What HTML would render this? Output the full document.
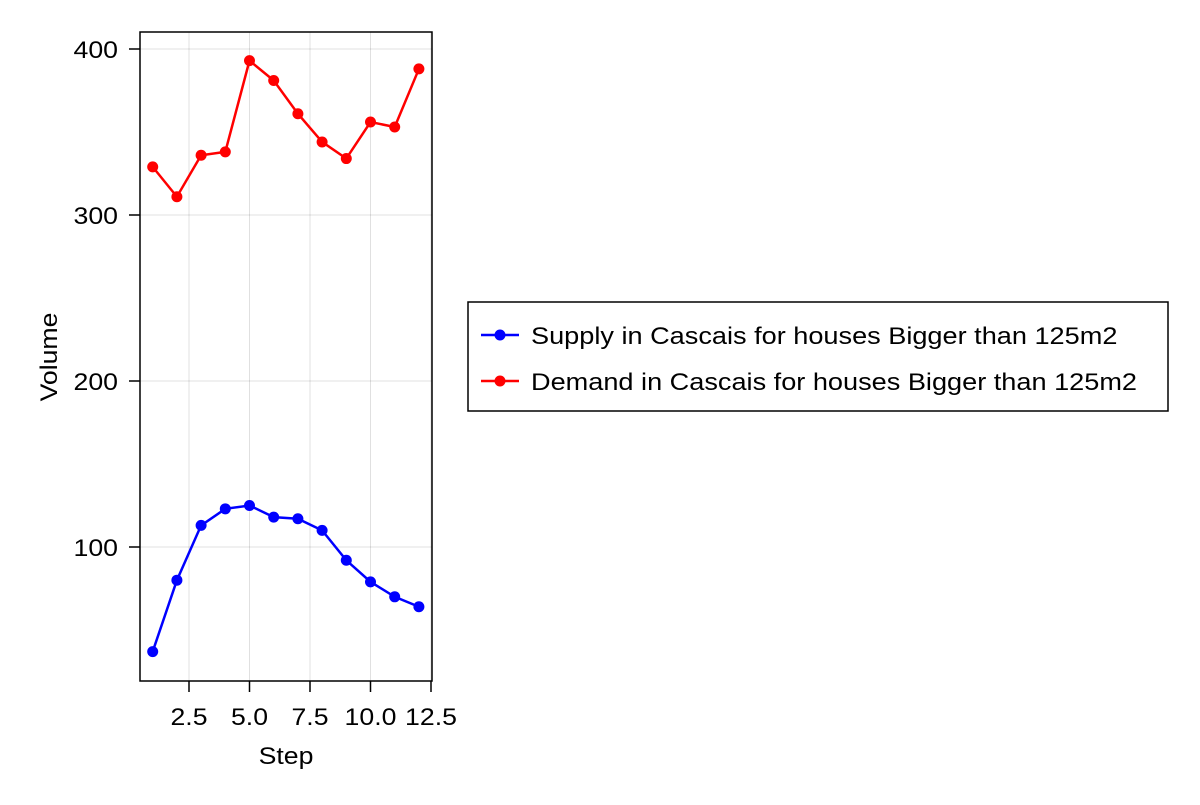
<!DOCTYPE html>
<html><head><meta charset="utf-8"><style>
html,body{margin:0;padding:0;background:#fff;}
svg text{font-family:"Liberation Sans",sans-serif;fill:#000;}
</style></head><body>
<svg id="chart" width="1200" height="800" xmlns="http://www.w3.org/2000/svg">
<rect width="1200" height="800" fill="#fff"/>
<g id="grid"></g>
<g id="series"></g>
<rect x="140" y="32" width="292" height="649" fill="none" stroke="#000" stroke-width="1.5"/>
<g id="ticks"></g>
<text class="w" x="286" y="764" font-size="24" text-anchor="middle">Step</text>
<text class="w" transform="translate(57,357) rotate(-90)" font-size="24" text-anchor="middle">Volume</text>
<g>
<rect x="468" y="302" width="700" height="109" fill="#fff" stroke="#000" stroke-width="1.5"/>
<g>
<line x1="481" y1="335" x2="519" y2="335" stroke="#0000ff" stroke-width="2.5"/>
<circle cx="500" cy="335" r="5.5" fill="#0000ff"/>
<text class="L" x="531" y="344" font-size="24">Supply in Cascais for houses Bigger than 125m2</text></g>
<g>
<line x1="481" y1="381" x2="519" y2="381" stroke="#ff0000" stroke-width="2.5"/>
<circle cx="500" cy="381" r="5.5" fill="#ff0000"/>
<text class="L" x="531" y="390" font-size="24">Demand in Cascais for houses Bigger than 125m2</text></g>
</g>
</svg>
<script>
const steps=[1,2,3,4,5,6,7,8,9,10,11,12];
const supply=[37,80,113,123,125,118,117,110,92,79,70,64];
const demand=[329,311,336,338,393,381,361,344,334,356,353,388];
const xTicks=[2.5,5.0,7.5,10.0,12.5];
const xTickLabels=["2.5","5.0","7.5","10.0","12.5"];
const yTicks=[100,200,300,400];
const yTickLabels=["100","200","300","400"];
const NS="http://www.w3.org/2000/svg";
const xs=v=>152.7+(v-1)*24.2;
const ys=v=>49+(400-v)*1.66;
function mk(t,a,p){const e=document.createElementNS(NS,t);for(const k in a)e.setAttribute(k,a[k]);p.appendChild(e);return e;}
const grid=document.getElementById('grid'),ticks=document.getElementById('ticks'),ser=document.getElementById('series');
xTicks.forEach((v,i)=>{
 const g=mk('line',{x1:xs(v),x2:xs(v),y1:32,y2:681,stroke:'#000','stroke-opacity':0.12,'stroke-width':1},grid);
 
 
 mk('line',{x1:xs(v),x2:xs(v),y1:681,y2:692,stroke:'#000','stroke-width':1.5},ticks);
 const t=mk('text',{x:xs(v),y:725,'font-size':24,'text-anchor':'middle','class':'w'},ticks);t.textContent=xTickLabels[i];
 
 
});
yTicks.forEach((v,i)=>{
 const g=mk('line',{x1:140,x2:432,y1:ys(v),y2:ys(v),stroke:'#000','stroke-opacity':0.12,'stroke-width':1},grid);
 
 
 mk('line',{x1:129,x2:140,y1:ys(v),y2:ys(v),stroke:'#000','stroke-width':1.5},ticks);
 const t=mk('text',{x:118,y:ys(v)+9,'font-size':24,'text-anchor':'end','class':'w'},ticks);t.textContent=yTickLabels[i];
 
 
});
function draw(vals,color,name){
 const p=mk('polyline',{points:steps.map((s,i)=>xs(s)+','+ys(vals[i])).join(' '),fill:'none',stroke:color,'stroke-width':2.5},ser);
 
 
 steps.forEach((s,i)=>{const c=mk('circle',{cx:xs(s),cy:ys(vals[i]),r:5.5,fill:color},ser);
 
 });
}
draw(supply,'#0000ff','supply');
draw(demand,'#ff0000','demand');
function stretch(sel,f){document.querySelectorAll(sel).forEach(t=>{
 const L=t.getComputedTextLength();
 t.setAttribute('textLength',(L*f).toFixed(1));
 t.setAttribute('lengthAdjust','spacingAndGlyphs');
});}
stretch('text.w',1.11);
stretch('text.L',1.13);
</script>
</body></html>
